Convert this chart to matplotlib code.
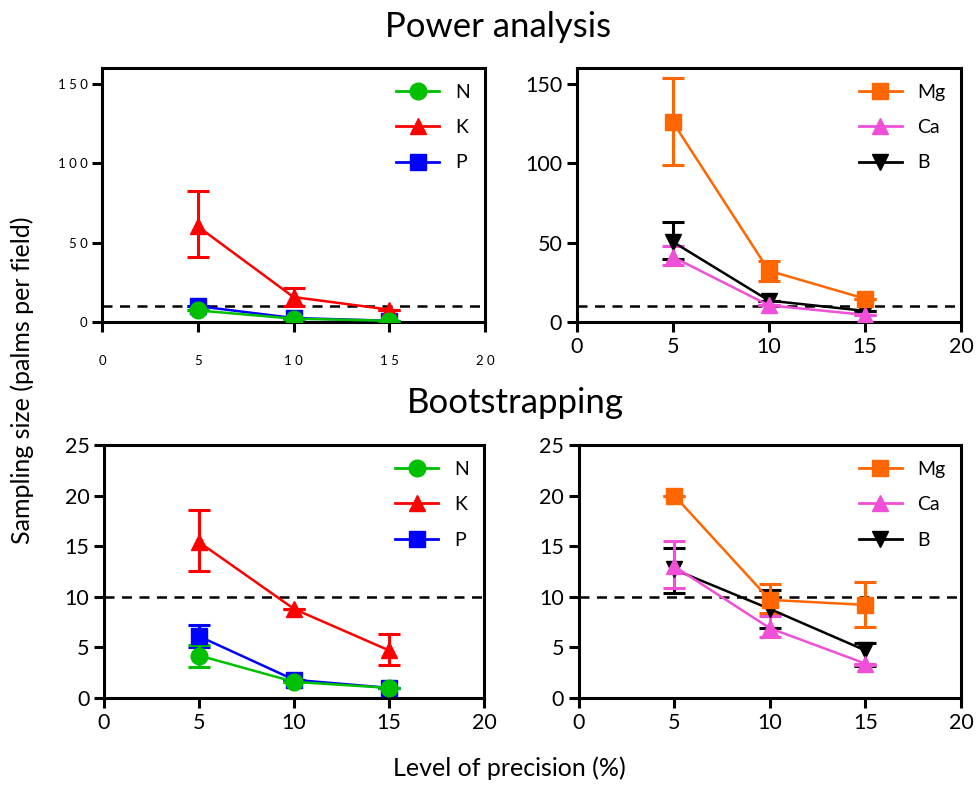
import matplotlib
matplotlib.use("Agg")
import matplotlib.pyplot as plt
from matplotlib.lines import Line2D

plt.rcParams["font.family"] = ["Lato", "DejaVu Sans"]

x = [5, 10, 15]

# Power analysis, left panel: value, lower end, upper end
pa_n = [7.3, 2.1, 0.8]
pa_k = [60.2, 15.7, 7.8]
pa_k_lo = [40.9, 10.0, 7.8]
pa_k_hi = [82.7, 21.4, 7.8]
pa_p = [10.0, 2.5, 0.8]

# Power analysis, right panel
pa_mg = [125.9, 32.3, 14.7]
pa_mg_lo = [98.8, 25.6, 14.7]
pa_mg_hi = [153.6, 38.2, 14.7]
pa_ca = [41.0, 10.5, 4.5]
pa_ca_lo = [36.0, 10.5, 4.5]
pa_ca_hi = [48.0, 10.5, 4.5]
pa_b = [50.5, 13.5, 7.0]
pa_b_lo = [40.0, 13.5, 7.0]
pa_b_hi = [62.9, 13.5, 7.0]

# Bootstrapping, left panel
bs_n = [4.2, 1.6, 1.0]
bs_n_lo = [3.1, 1.6, 1.0]
bs_n_hi = [5.2, 1.6, 1.0]
bs_k = [15.4, 8.8, 4.7]
bs_k_lo = [12.6, 8.8, 3.3]
bs_k_hi = [18.6, 8.8, 6.3]
bs_p = [6.1, 1.8, 1.0]
bs_p_lo = [5.0, 1.8, 1.0]
bs_p_hi = [7.2, 1.8, 1.0]

# Bootstrapping, right panel
bs_mg = [20.0, 9.7, 9.2]
bs_mg_lo = [20.0, 8.4, 7.0]
bs_mg_hi = [20.0, 11.3, 11.5]
bs_ca = [13.0, 6.9, 3.4]
bs_ca_lo = [10.9, 6.0, 3.3]
bs_ca_hi = [15.5, 8.1, 3.4]
bs_b = [12.7, 8.8, 4.7]
bs_b_lo = [10.4, 6.9, 3.2]
bs_b_hi = [14.8, 10.7, 5.4]

threshold = 10

GREEN = "#00C000"
RED = "#FF0000"
BLUE = "#0000FF"
ORANGE = "#FF6600"
PINK = "#F050D8"
BLACK = "#000000"


def series(ax, y, lo, hi, color, marker, ms=12):
    lo = lo if lo is not None else y
    hi = hi if hi is not None else y
    err = [[v - l for v, l in zip(y, lo)], [h - v for v, h in zip(y, hi)]]
    ax.errorbar(x, y, yerr=err, color=color, marker=marker, markersize=ms,
                linewidth=1.8, elinewidth=2.2, capsize=8, capthick=2.2, zorder=3)


def style(ax, ymax, yticks):
    ax.set_xlim(0, 20)
    ax.set_ylim(0, ymax)
    ax.set_xticks([0, 5, 10, 15, 20])
    ax.set_yticks(yticks)
    for s in ax.spines.values():
        s.set_linewidth(2.2)
    ax.tick_params(direction="out", length=7, width=2.2, labelsize=15.5)
    ax.axhline(threshold, color="black", linestyle=(0, (4, 3)), linewidth=1.8, zorder=2)


def legend(ax, labels, colors, markers):
    handles = [Line2D([0], [0], color=c, marker=m, markersize=12, linewidth=2)
               for c, m in zip(colors, markers)]
    ax.legend(handles, labels, loc="upper right", frameon=False, fontsize=14,
              handlelength=2.2, labelspacing=0.95, borderaxespad=0.4)


fig = plt.figure(figsize=(9.76, 7.85), dpi=100)

ax1 = fig.add_axes([0.1045, 0.5898, 0.3925, 0.3236])
series(ax1, pa_p, None, None, BLUE, "s")
series(ax1, pa_k, pa_k_lo, pa_k_hi, RED, "^")
series(ax1, pa_n, None, None, GREEN, "o")
style(ax1, 160, [0, 50, 100, 150])
ax1.set_yticklabels(["0", "5 0", "1 0 0", "1 5 0"], fontsize=9.5)
ax1.set_xticklabels(["0", "5", "1 0", "1 5", "2 0"], fontsize=9.5)
ax1.tick_params(axis="x", pad=17)
legend(ax1, ["N", "K", "P"], [GREEN, RED, BLUE], ["o", "^", "s"])

ax2 = fig.add_axes([0.591, 0.5898, 0.3936, 0.3236])
series(ax2, pa_b, pa_b_lo, pa_b_hi, BLACK, "v")
series(ax2, pa_ca, pa_ca_lo, pa_ca_hi, PINK, "^")
series(ax2, pa_mg, pa_mg_lo, pa_mg_hi, ORANGE, "s")
style(ax2, 160, [0, 50, 100, 150])
legend(ax2, ["Mg", "Ca", "B"], [ORANGE, PINK, BLACK], ["s", "^", "v"])

ax3 = fig.add_axes([0.1066, 0.1108, 0.3894, 0.3223])
series(ax3, bs_p, bs_p_lo, bs_p_hi, BLUE, "s")
series(ax3, bs_k, bs_k_lo, bs_k_hi, RED, "^")
series(ax3, bs_n, bs_n_lo, bs_n_hi, GREEN, "o")
style(ax3, 25, [0, 5, 10, 15, 20, 25])
legend(ax3, ["N", "K", "P"], [GREEN, RED, BLUE], ["o", "^", "s"])

ax4 = fig.add_axes([0.593, 0.1108, 0.3916, 0.3223])
series(ax4, bs_b, bs_b_lo, bs_b_hi, BLACK, "v")
series(ax4, bs_ca, bs_ca_lo, bs_ca_hi, PINK, "^")
series(ax4, bs_mg, bs_mg_lo, bs_mg_hi, ORANGE, "s")
style(ax4, 25, [0, 5, 10, 15, 20, 25])
legend(ax4, ["Mg", "Ca", "B"], [ORANGE, PINK, BLACK], ["s", "^", "v"])

fig.text(0.51, 0.965, "Power analysis", ha="center", va="center", fontsize=25)
fig.text(0.528, 0.487, "Bootstrapping", ha="center", va="center", fontsize=25)
fig.text(0.023, 0.515, "Sampling size (palms per field)", rotation=90,
         ha="center", va="center", fontsize=18)
fig.text(0.522, 0.022, "Level of precision (%)", ha="center", va="center", fontsize=18)

fig.savefig("out.png", dpi=100)
